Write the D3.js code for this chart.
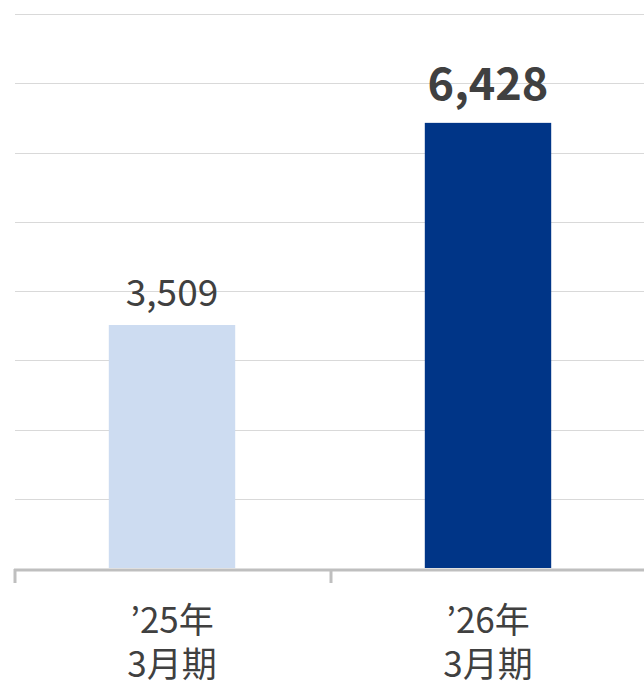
<!DOCTYPE html>
<html>
<head>
<meta charset="utf-8">
<script src="https://cdn.jsdelivr.net/npm/d3@7"></script>
<style>
  html, body { margin: 0; padding: 0; background: #fff; }
  svg { display: block; }
  text { font-family: "Noto Sans CJK JP", "Noto Sans", sans-serif; fill: #404040; }
</style>
</head>
<body>
<svg id="chart" width="644" height="683"></svg>
<script>
// Données
const periods = ["’25年", "’26年"];
const periodSub = ["3月期", "3月期"];
const values = [3509, 6428];
const barColors = ["#cddcf1", "#003587"];
const gridTicks = [1000, 2000, 3000, 4000, 5000, 6000, 7000, 8000];

const svg = d3.select("#chart");

// Échelles
const x = d3.scaleBand()
  .domain(periods)
  .range([14, 646])
  .padding(0);

const y = d3.scaleLinear()
  .domain([0, 8000])
  .range([568, 14]);

// Lignes de grille horizontales
svg.append("g")
  .selectAll("line")
  .data(gridTicks)
  .join("line")
  .attr("x1", 15)
  .attr("x2", 644)
  .attr("y1", d => Math.round(y(d)) + 0.5)
  .attr("y2", d => Math.round(y(d)) + 0.5)
  .attr("stroke", "#d9d9d9")
  .attr("stroke-width", 1);

// Barres
const barW = x.bandwidth() * 0.4;
svg.append("g")
  .selectAll("rect")
  .data(values)
  .join("rect")
  .attr("x", (d, i) => x(periods[i]) + (x.bandwidth() - barW) / 2)
  .attr("y", d => y(d))
  .attr("width", barW)
  .attr("height", d => y(0) - y(d))
  .attr("fill", (d, i) => barColors[i]);

// Axe horizontal avec graduations aux bords des catégories
const axis = svg.append("g");
axis.append("line")
  .attr("x1", 14)
  .attr("x2", 644)
  .attr("y1", 570)
  .attr("y2", 570)
  .attr("stroke", "#bfbfbf")
  .attr("stroke-width", 3);

const edges = periods.map(p => x(p)).concat([x(periods[1]) + x.bandwidth()]);
axis.selectAll(".tick")
  .data(edges)
  .join("line")
  .attr("class", "tick")
  .attr("x1", d => d + 1)
  .attr("x2", d => d + 1)
  .attr("y1", 569)
  .attr("y2", 583)
  .attr("stroke", "#bfbfbf")
  .attr("stroke-width", 3);

// Étiquettes des catégories (deux lignes, deux textes séparés)
const labels = svg.append("g");
labels.selectAll(".l1")
  .data(periods)
  .join("text")
  .attr("class", "l1")
  .attr("x", d => x(d) + x.bandwidth() / 2)
  .attr("y", 633)
  .attr("text-anchor", "middle")
  .attr("font-size", 35)
  .text(d => d);
labels.selectAll(".l2")
  .data(periods)
  .join("text")
  .attr("class", "l2")
  .attr("x", d => x(d) + x.bandwidth() / 2)
  .attr("y", 677)
  .attr("text-anchor", "middle")
  .attr("font-size", 35)
  .text((d, i) => periodSub[i]);

// Valeurs au-dessus des barres
svg.append("g")
  .selectAll("text")
  .data(values)
  .join("text")
  .attr("x", (d, i) => x(periods[i]) + x.bandwidth() / 2)
  .attr("y", (d, i) => y(d) - (i === 1 ? 23 : 19))
  .attr("text-anchor", "middle")
  .attr("font-size", (d, i) => i === 1 ? 45 : 37)
  .attr("font-weight", (d, i) => i === 1 ? "bold" : "normal")
  .text(d => d3.format(",")(d));
</script>
</body>
</html>
